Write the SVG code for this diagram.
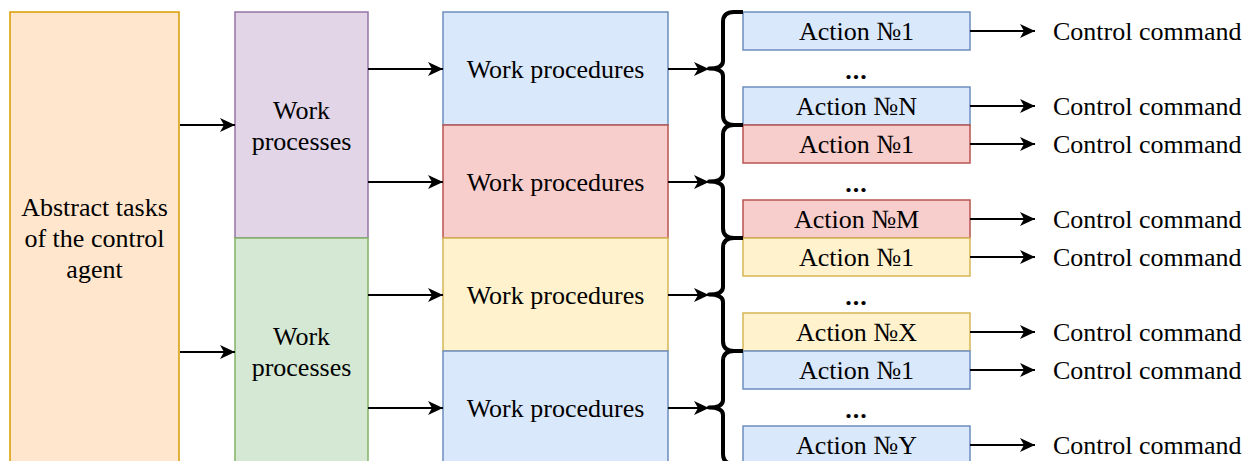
<svg xmlns="http://www.w3.org/2000/svg" width="1255" height="461" viewBox="0 0 1255 461" font-family="Liberation Serif" font-size="26">
<style>
text{font-family:'Liberation Serif',serif;font-size:26px;fill:#000;text-anchor:middle}
.lbl{text-anchor:start}
.dots{font-weight:bold;letter-spacing:1px}
.orange{fill:#ffe6cc;stroke:#d79b00;stroke-width:1.5}
.purple{fill:#e1d5e7;stroke:#9673a6;stroke-width:1.5}
.green{fill:#d5e8d4;stroke:#82b366;stroke-width:1.5}
.blue{fill:#dae8fc;stroke:#6c8ebf;stroke-width:1.5}
.red{fill:#f8cecc;stroke:#b85450;stroke-width:1.5}
.yellow{fill:#fff2cc;stroke:#d6b656;stroke-width:1.5}
.arr{stroke:#000;stroke-width:2;fill:none;marker-end:url(#ah)}
.brace{stroke:#000;stroke-width:4;fill:none;stroke-linejoin:round}
</style>
<defs>
<marker id="ah" markerUnits="userSpaceOnUse" markerWidth="16" markerHeight="16" viewBox="0 -8 16 16" refX="15" refY="0" orient="auto">
<path d="M0,-7 L15,0 L0,7 L4,0 Z" fill="#000"/>
</marker>
</defs>
<g id="abstract"><rect class="orange" x="10" y="12" width="169" height="452"/>
<text x="94.5" y="216">Abstract tasks</text><text x="94.5" y="247">of the control</text><text x="94.5" y="278">agent</text></g>
<g id="wp1"><rect class="purple" x="235" y="12" width="133" height="226"/><text x="301.5" y="119">Work</text><text x="301.5" y="150">processes</text></g>
<g id="wp2"><rect class="green" x="235" y="238" width="133" height="226"/><text x="301.5" y="345">Work</text><text x="301.5" y="376">processes</text></g>
<g id="proc1"><rect class="blue" x="443" y="12" width="225" height="113"/><text x="555.5" y="78">Work procedures</text></g>
<g id="proc2"><rect class="red" x="443" y="125" width="225" height="113"/><text x="555.5" y="191">Work procedures</text></g>
<g id="proc3"><rect class="yellow" x="443" y="238" width="225" height="113"/><text x="555.5" y="304">Work procedures</text></g>
<g id="proc4"><rect class="blue" x="443" y="351" width="225" height="113"/><text x="555.5" y="417">Work procedures</text></g>
<g id="a1-1"><rect class="blue" x="743" y="12" width="227" height="38"/><text x="856.5" y="40">Action №1</text></g>
<g id="dots1"><text class="dots" x="856.5" y="79">...</text></g>
<g id="a1-n"><rect class="blue" x="743" y="87" width="227" height="38"/><text x="856.5" y="115">Action №N</text></g>
<g id="a2-1"><rect class="red" x="743" y="125" width="227" height="38"/><text x="856.5" y="153">Action №1</text></g>
<g id="dots2"><text class="dots" x="856.5" y="192">...</text></g>
<g id="a2-m"><rect class="red" x="743" y="200" width="227" height="38"/><text x="856.5" y="228">Action №M</text></g>
<g id="a3-1"><rect class="yellow" x="743" y="238" width="227" height="38"/><text x="856.5" y="266">Action №1</text></g>
<g id="dots3"><text class="dots" x="856.5" y="305">...</text></g>
<g id="a3-x"><rect class="yellow" x="743" y="313" width="227" height="38"/><text x="856.5" y="341">Action №X</text></g>
<g id="a4-1"><rect class="blue" x="743" y="351" width="227" height="38"/><text x="856.5" y="379">Action №1</text></g>
<g id="dots4"><text class="dots" x="856.5" y="418">...</text></g>
<g id="a4-y"><rect class="blue" x="743" y="426" width="227" height="38"/><text x="856.5" y="454">Action №Y</text></g>
<g id="commands">
<text class="lbl" x="1053" y="40">Control command</text>
<text class="lbl" x="1053" y="115">Control command</text>
<text class="lbl" x="1053" y="153">Control command</text>
<text class="lbl" x="1053" y="228">Control command</text>
<text class="lbl" x="1053" y="266">Control command</text>
<text class="lbl" x="1053" y="341">Control command</text>
<text class="lbl" x="1053" y="379">Control command</text>
<text class="lbl" x="1053" y="454">Control command</text>
</g>
<g id="braces">
<path class="brace" d="M743,12 L734,12 Q723,12 723,22 L723,61 Q723,68.5 709,68.5 Q723,68.5 723,76 L723,115 Q723,125 734,125 L743,125"/>
<path class="brace" d="M743,125 L734,125 Q723,125 723,135 L723,174 Q723,181.5 709,181.5 Q723,181.5 723,189 L723,228 Q723,238 734,238 L743,238"/>
<path class="brace" d="M743,238 L734,238 Q723,238 723,248 L723,287 Q723,294.5 709,294.5 Q723,294.5 723,302 L723,341 Q723,351 734,351 L743,351"/>
<path class="brace" d="M743,351 L734,351 Q723,351 723,361 L723,400 Q723,407.5 709,407.5 Q723,407.5 723,415 L723,454 Q723,464 734,464 L743,464"/>
</g>
<g id="connectors">
<path class="arr" d="M180,125 L235,125"/>
<path class="arr" d="M180,352 L235,352"/>
<path class="arr" d="M368,69 L443,69"/>
<path class="arr" d="M368,182 L443,182"/>
<path class="arr" d="M368,295 L443,295"/>
<path class="arr" d="M368,408 L443,408"/>
<path class="arr" d="M668,69 L709,69"/>
<path class="arr" d="M668,182 L709,182"/>
<path class="arr" d="M668,295 L709,295"/>
<path class="arr" d="M668,408 L709,408"/>
<path class="arr" d="M970,31 L1035,31"/>
<path class="arr" d="M970,106 L1035,106"/>
<path class="arr" d="M970,144 L1035,144"/>
<path class="arr" d="M970,219 L1035,219"/>
<path class="arr" d="M970,257 L1035,257"/>
<path class="arr" d="M970,332 L1035,332"/>
<path class="arr" d="M970,370 L1035,370"/>
<path class="arr" d="M970,445 L1035,445"/>
</g>
</svg>
